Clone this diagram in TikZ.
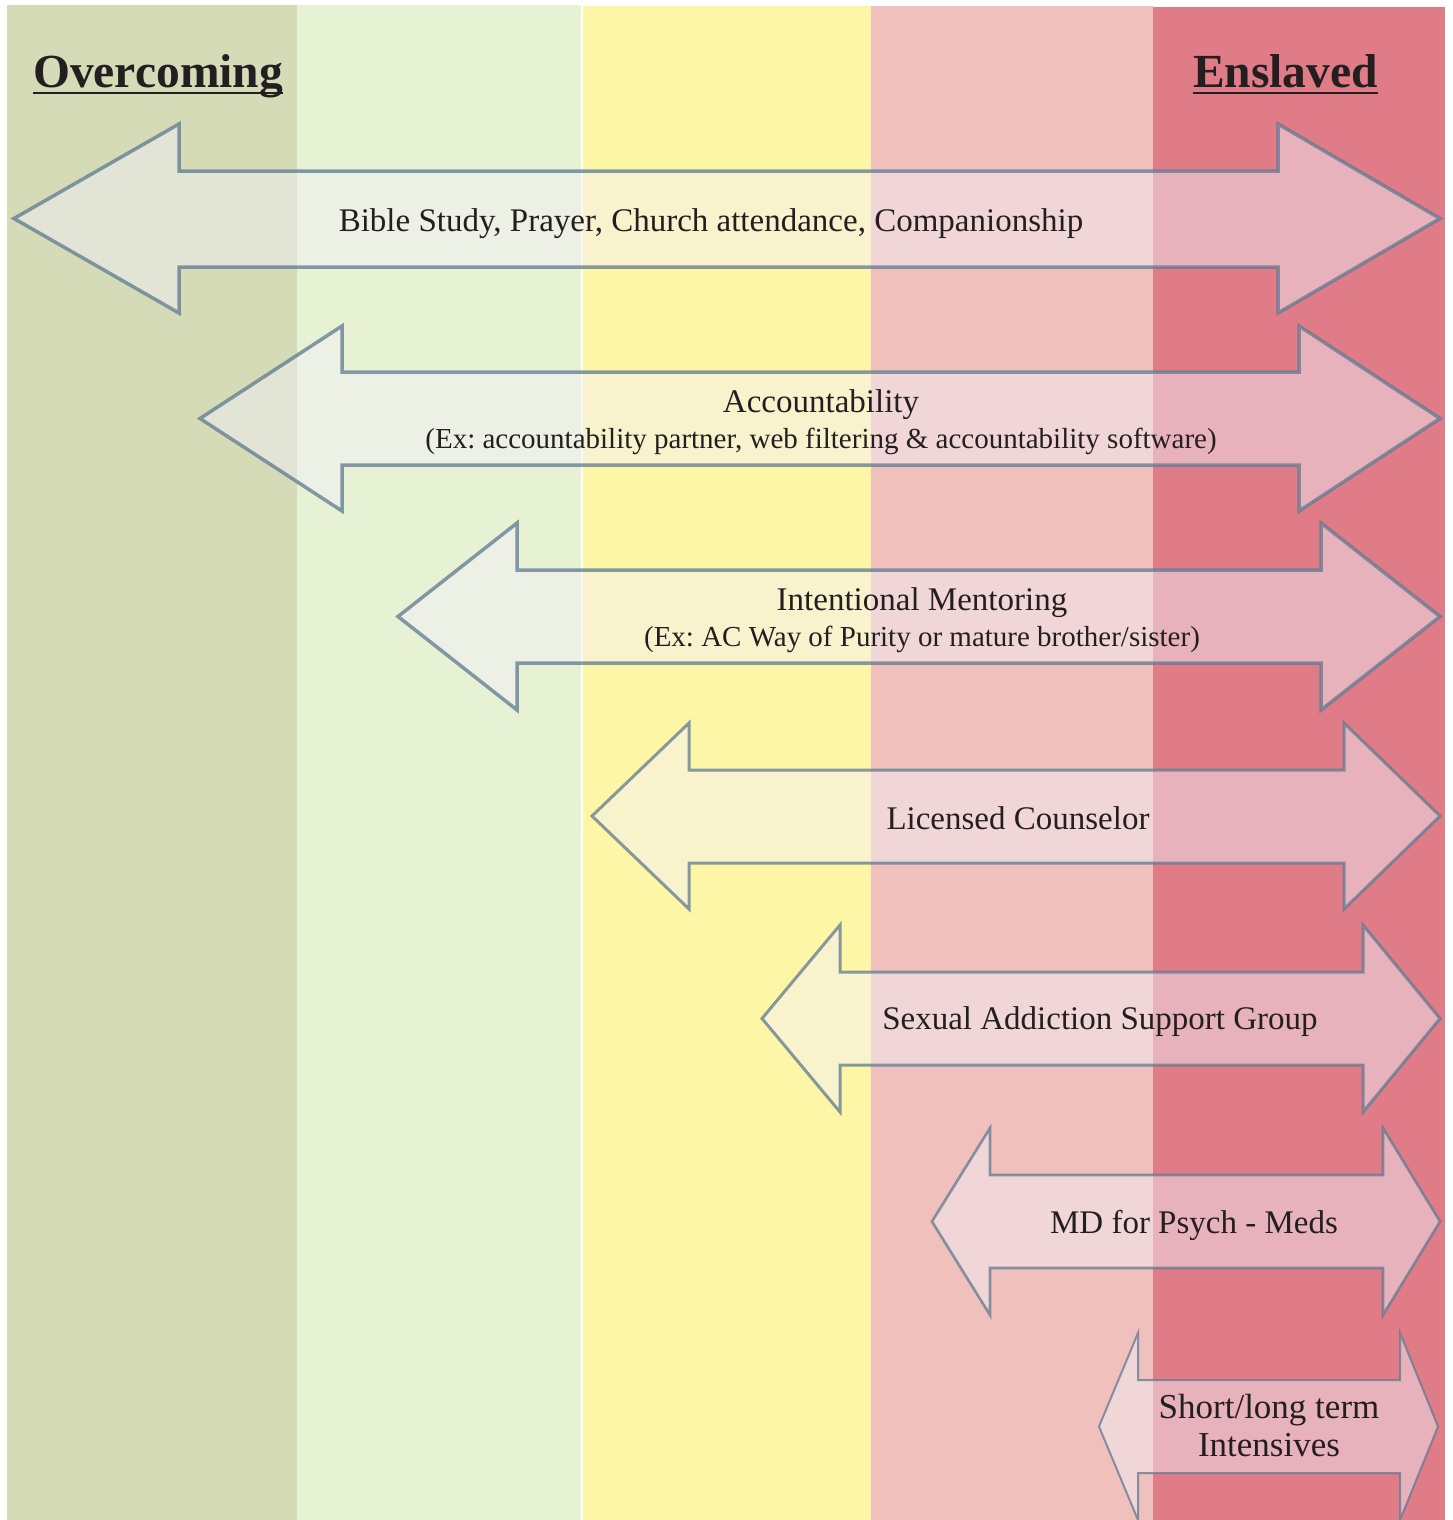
\documentclass[tikz,border=0pt]{standalone}
\usepackage{fontspec}
\setmainfont{Liberation Serif}
\frenchspacing
\definecolor{colA}{RGB}{212,219,182}
\definecolor{colB}{RGB}{231,241,212}
\definecolor{colC}{RGB}{254,246,167}
\definecolor{colD}{RGB}{240,192,188}
\definecolor{colE}{RGB}{223,124,135}
\definecolor{arrfill}{RGB}{243,239,249}
\definecolor{arrline}{RGB}{95,122,145}
\definecolor{ink}{RGB}{35,31,32}
\tikzset{
  dblarrow/.style={fill=arrfill, fill opacity=0.47, draw=arrline, draw opacity=0.75, line join=miter},
  lbl/.style={anchor=base, inner sep=0pt, text=ink, font=\fontsize{33}{38}\selectfont},
  sublbl/.style={anchor=base, inner sep=0pt, text=ink, font=\fontsize{29}{33}\selectfont},
  ttl/.style={anchor=base west, inner sep=0pt, text=ink, font=\fontsize{47.5}{52}\selectfont\bfseries},
}
\begin{document}
\begin{tikzpicture}[x=1pt,y=-1pt]
\useasboundingbox (0,0) rectangle (1452,1520);
\fill[white] (0,0) rectangle (1452,1520);
\begin{scope}
\clip (0,0) rectangle (1452,1520);
\fill[colA] (7,5) rectangle (297,1520);
\fill[colB] (297,5) rectangle (581,1520);
\fill[colC] (583,6) rectangle (871,1520);
\fill[colD] (871,6) rectangle (1153,1520);
\fill[colE] (1153,7) rectangle (1445,1520);
% arrows
\draw[dblarrow, line width=3.5pt] (14,218.5) -- (179,124) -- (179,171) -- (1278,171) -- (1278,124) -- (1440,218.5) -- (1278,313) -- (1278,267) -- (179,267) -- (179,313) -- cycle;
\draw[dblarrow, line width=3.5pt] (200,418.5) -- (342,326) -- (342,372) -- (1299,372) -- (1299,326) -- (1440,418.5) -- (1299,511) -- (1299,465) -- (342,465) -- (342,511) -- cycle;
\draw[dblarrow, line width=3.5pt] (398,616.5) -- (517,523) -- (517,570) -- (1321,570) -- (1321,523) -- (1440,616.5) -- (1321,710) -- (1321,663) -- (517,663) -- (517,710) -- cycle;
\draw[dblarrow, line width=3pt] (592,816) -- (689,723) -- (689,770) -- (1344,770) -- (1344,723) -- (1440,816) -- (1344,909) -- (1344,863) -- (689,863) -- (689,909) -- cycle;
\draw[dblarrow, line width=3pt] (762,1018.5) -- (840,925) -- (840,972) -- (1363,972) -- (1363,925) -- (1440,1018.5) -- (1363,1112) -- (1363,1065) -- (840,1065) -- (840,1112) -- cycle;
\draw[dblarrow, line width=2.6pt] (932,1221.5) -- (990,1128) -- (990,1175) -- (1383,1175) -- (1383,1128) -- (1440,1221.5) -- (1383,1315) -- (1383,1268) -- (990,1268) -- (990,1315) -- cycle;
\draw[dblarrow, line width=2pt] (1099,1426.5) -- (1138,1333) -- (1138,1380) -- (1400,1380) -- (1400,1333) -- (1438,1426.5) -- (1400,1520) -- (1400,1473) -- (1138,1473) -- (1138,1520) -- cycle;
\end{scope}
% titles
\node[ttl] (over) at (33,88) {Overcoming};
\draw[ink, line width=2.5pt] ([yshift=-5pt]over.base west) -- ([yshift=-5pt]over.base east);
\node[ttl, anchor=base east] (ensl) at (1378,88) {Enslaved};
\draw[ink, line width=2.5pt] ([yshift=-5pt]ensl.base west) -- ([yshift=-5pt]ensl.base east);
% labels
\node[lbl] (t1) at (711,231) {Bible Study, Prayer, Church attendance, Companionship};
\node[lbl] (t2) at (821,412) {Accountability};
\node[sublbl] (t2s) at (821,448) {(Ex: accountability partner, web filtering \& accountability software)};
\node[lbl] (t3) at (922,610) {Intentional Mentoring};
\node[sublbl] (t3s) at (922,646) {(Ex: AC Way of Purity or mature brother/sister)};
\node[lbl] (t4) at (1018,829) {Licensed Counselor};
\node[lbl] (t5) at (1100,1029) {Sexual Addiction Support Group};
\node[lbl] (t6) at (1194,1233) {MD for Psych - Meds};
\node[lbl, font=\fontsize{35}{40}\selectfont] (t7a) at (1269,1418) {Short/long term};
\node[lbl, font=\fontsize{35}{40}\selectfont] (t7b) at (1269,1456) {Intensives};
\end{tikzpicture}
\end{document}
